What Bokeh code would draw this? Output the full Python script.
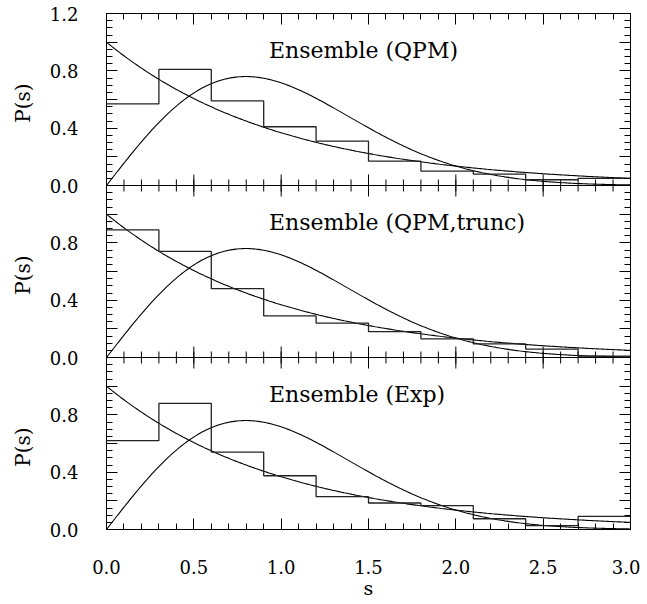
import numpy as np
from bokeh.plotting import figure
from bokeh.layouts import row
from bokeh.models import (LinearAxis, FixedTicker, Range1d, ColumnDataSource,
                          Label, Span)
from bokeh.transform import dodge
from bokeh.embed import file_html
from bokeh.resources import INLINE

# ---- data ----
bin_edges = [0.0, 0.3, 0.6, 0.9, 1.2, 1.5, 1.8, 2.1, 2.4, 2.7, 3.0]
hist_qpm = [0.57, 0.81, 0.59, 0.41, 0.31, 0.17, 0.10, 0.08, 0.04, 0.05]
hist_qpm_trunc = [0.89, 0.74, 0.48, 0.29, 0.24, 0.18, 0.13, 0.095, 0.058, 0.01]
hist_exp = [0.62, 0.88, 0.54, 0.375, 0.23, 0.185, 0.167, 0.075, 0.027, 0.092]
panel_titles = ["Ensemble (QPM)", "Ensemble (QPM,trunc)", "Ensemble (Exp)"]
x_ticks = [0.0, 0.5, 1.0, 1.5, 2.0, 2.5, 3.0]
x_tick_labels = ["0.0", "0.5", "1.0", "1.5", "2.0", "2.5", "3.0"]
y_ticks = [0.0, 0.2, 0.4, 0.6, 0.8, 1.0, 1.2]
y_tick_labels = ["0.0", "", "0.4", "", "0.8", "", "1.2"]
y_title = "P(s)"
x_title = "s"

# theoretical curves: Poisson and Wigner surmise
s = np.linspace(0, 3, 301)
poisson = np.exp(-s)
wigner = np.pi / 2 * s * np.exp(-np.pi * s ** 2 / 4)

FONT = "DejaVu Serif"
PANEL_H = 1.2                      # height of one panel in data units
panels = [hist_qpm, hist_qpm_trunc, hist_exp]   # top to bottom
n_pan = len(panels)
Y_TOP = round(PANEL_H * n_pan, 3)
LAB_W = 44                         # width of the strip that holds the P(s) titles

x_minor = [round(0.1 * i, 2) for i in range(31)]

# y ticks for the stacked panels (bottom panel first)
y_over = {}
y_minor_all = []
for k in range(n_pan):
    off = PANEL_H * k
    for t, lab in zip(y_ticks, y_tick_labels):
        pos = round(t + off, 3)
        if t == PANEL_H and k < n_pan - 1:
            continue          # upper edge of a lower panel = 0.0 of the next one
        y_over[pos] = lab
    for i in range(24):
        y_minor_all.append(round(off + 0.05 * i, 3))
y_minor_all.append(Y_TOP)
y_major_all = sorted(y_over.keys())
x_over = {t: l for t, l in zip(x_ticks, x_tick_labels)}

p = figure(frame_width=524, frame_height=516,
           x_range=Range1d(0, 3), y_range=Range1d(0, Y_TOP),
           x_axis_location=None, y_axis_location=None,
           output_backend="svg", toolbar_location=None,
           min_border_left=106 - LAB_W, min_border_right=10,
           min_border_top=13, min_border_bottom=0,
           background_fill_color=None, border_fill_color=None)
p.outline_line_color = "black"
for g in p.grid:
    g.visible = False


def style_axis(ax, labels=True):
    ax.axis_line_color = "black"
    ax.major_tick_in = 11
    ax.major_tick_out = 0
    ax.minor_tick_in = 6
    ax.minor_tick_out = 0
    ax.major_tick_line_color = "black"
    ax.minor_tick_line_color = "black"
    ax.major_label_text_font = FONT
    ax.major_label_text_font_size = "18px"
    ax.major_label_text_color = "black" if labels else None
    ax.axis_label_text_font = FONT
    ax.axis_label_text_font_style = "normal"
    ax.axis_label_text_font_size = "19px"
    ax.axis_label_text_color = "black"


left = LinearAxis(ticker=FixedTicker(ticks=y_major_all, minor_ticks=y_minor_all),
                  major_label_overrides=y_over)
style_axis(left)
left.major_label_standoff = 28
right = LinearAxis(ticker=FixedTicker(ticks=y_major_all, minor_ticks=y_minor_all))
style_axis(right, labels=False)
above = LinearAxis(ticker=FixedTicker(ticks=x_ticks, minor_ticks=x_minor))
style_axis(above, labels=False)
below = LinearAxis(ticker=FixedTicker(ticks=x_ticks, minor_ticks=x_minor),
                   major_label_overrides=x_over, axis_label=x_title)
style_axis(below)
below.major_label_standoff = 30
below.axis_label_standoff = 0
p.add_layout(left, "left")
p.add_layout(right, "right")
p.add_layout(above, "above")
p.add_layout(below, "below")

# panel boundaries with inward ticks on both sides
for k in range(1, n_pan):
    yb = PANEL_H * k
    p.add_layout(Span(location=yb, dimension="width", line_color="black", line_width=1))
    p.scatter(x=x_minor, y=[yb] * len(x_minor), marker="dash", angle=np.pi / 2,
              size=12, line_color="black", line_width=1)
    p.scatter(x=x_ticks, y=[yb] * len(x_ticks), marker="dash", angle=np.pi / 2,
              size=22, line_color="black", line_width=1)

for idx, vals in enumerate(panels):
    off = PANEL_H * (n_pan - 1 - idx)
    cs = ColumnDataSource(dict(s=s, poisson=poisson, wigner=wigner))
    p.line("s", dodge("poisson", off, range=p.y_range), source=cs,
           line_color="black", line_width=1.1)
    p.line("s", dodge("wigner", off, range=p.y_range), source=cs,
           line_color="black", line_width=1.1)
    hs = ColumnDataSource(dict(x=bin_edges, y=list(vals) + [vals[-1]]))
    p.step("x", dodge("y", off, range=p.y_range), source=hs, mode="after",
           line_color="#222222", line_width=1.3)
    p.add_layout(Label(x=0.93, y=0.94 + off, text=panel_titles[idx], text_font=FONT,
                       text_font_size="22px", text_baseline="middle",
                       text_align="left", text_color="black"))

# narrow strip on the left holding the rotated P(s) title of each panel
lab = figure(frame_width=LAB_W, frame_height=516,
             x_range=Range1d(0, LAB_W), y_range=Range1d(0, Y_TOP),
             x_axis_location=None, y_axis_location=None,
             output_backend="svg", toolbar_location=None,
             min_border_left=0, min_border_right=0,
             min_border_top=13, min_border_bottom=0,
             background_fill_color=None, border_fill_color=None)
lab.outline_line_color = None
for g in lab.grid:
    g.visible = False
for idx in range(n_pan):
    off = PANEL_H * (n_pan - 1 - idx)
    lab.add_layout(Label(x=LAB_W / 2, y=0.575 + off, text=y_title, text_font=FONT,
                         text_font_size="20px", text_baseline="middle",
                         text_align="center", angle=np.pi / 2, text_color="black"))

layout = row(lab, p, spacing=0)
open("out.html", "w").write(file_html(layout, INLINE))
